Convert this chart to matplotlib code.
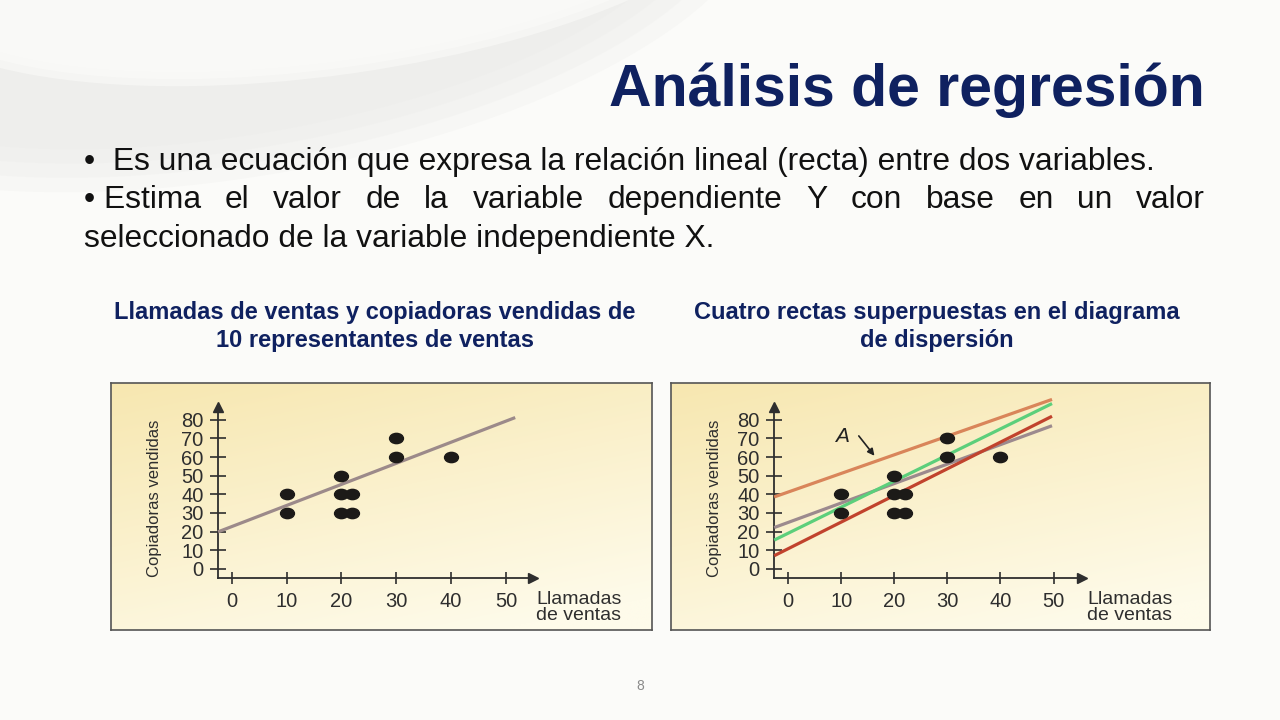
import numpy as np
import matplotlib
matplotlib.use('Agg')
import matplotlib.pyplot as plt
from matplotlib.patches import Ellipse
from matplotlib.path import Path
from matplotlib.transforms import Affine2D

plt.rcParams['font.family'] = ['Liberation Sans', 'DejaVu Sans']

# data: sales calls vs copiers sold for 10 reps
calls = [10, 10, 20, 20, 20, 22, 22, 30, 30, 40]
copiers = [40, 30, 50, 40, 30, 40, 30, 70, 60, 60]

# regression line drawn in the left figure
fit_intercept = 22.7
fit_slope = 1.131
fit_range = [-2.5, 51.7]

# four candidate lines in the right figure (drawing order: bottom to top)
line_names = ['gris', 'rojo', 'verde', 'A']
line_intercepts = [24.9, 10.8, 19.1, 41.2]
line_slopes = [1.044, 1.43, 1.40, 1.00]
line_colors = ['#9c8a8e', '#c1432d', '#5ccf7b', '#d9855a']
lines_range = [-2.6, 49.7]

x_ticks = [0, 10, 20, 30, 40, 50]
y_ticks = [0, 10, 20, 30, 40, 50, 60, 70, 80]

title = 'Análisis de regresión'
bullet1 = '•  Es una ecuación que expresa la relación lineal (recta) entre dos variables.'
bullet2 = '• Estima el valor de la variable dependiente Y con base en un valor'
bullet3 = 'seleccionado de la variable independiente X.'
left_title = ['Llamadas de ventas y copiadoras vendidas de', '10 representantes de ventas']
right_title = ['Cuatro rectas superpuestas en el diagrama', 'de dispersión']

W, H = 1280, 720
navy = '#0f2160'
ink = '#2e2e2e'
bg_col = '#fbfbf9'

fig = plt.figure(figsize=(12.8, 7.2), dpi=100)
fig.patch.set_facecolor(bg_col)

# page layer in pixel coordinates
page = fig.add_axes([0, 0, 1, 1], zorder=0)
page.set_xlim(0, W)
page.set_ylim(H, 0)
page.axis('off')

# faint swoosh in the top-left corner
for k in range(4):
    page.add_patch(Ellipse((250, -20), 1040 - 50 * k, 390 - 28 * k, angle=-10,
                           facecolor='#e9e9e7', edgecolor='none', alpha=0.22))
for k in range(3):
    page.add_patch(Ellipse((330, -75), 900 - 25 * k, 300 - 14 * k, angle=-8,
                           facecolor=bg_col, edgecolor='none', alpha=0.55))

page.text(1205, 90, title, ha='right', va='center', fontsize=42.5,
          fontweight='bold', color=navy)

body = dict(ha='left', va='center', fontsize=22.9, color='#111111')
page.text(84, 162, bullet1, **body)
page.text(84, 239, bullet3, **body)

# justified second line
words = bullet2.replace('• ', '•\u00a0').split(' ')
word_texts = [page.text(0, 200, w, **body) for w in words]
renderer = fig.canvas.get_renderer()
widths = [t.get_window_extent(renderer).width for t in word_texts]
gap = (1205 - 84 - sum(widths)) / (len(words) - 1)
x = 84
for t, w in zip(word_texts, widths):
    t.set_x(x)
    x += w + gap

for cx, lines in [(375, left_title), (937, right_title)]:
    for i, s in enumerate(lines):
        page.text(cx, 312 + 29 * i, s, ha='center', va='center', fontsize=17,
                  fontweight='bold', color=navy)

page.text(640, 686, '8', ha='center', va='center', fontsize=10, color='#8a8a8a')

# panel background gradient
top = np.array([247, 231, 176]) / 255
bot = np.array([254, 251, 234]) / 255
vv, hh = np.mgrid[0:1:200j, 0:1:200j]
t = np.clip(0.75 * vv + 0.35 * hh, 0, 1)[..., None]
grad = top * (1 - t) + bot * t


def px_axes(x0, y0, x1, y1, **kw):
    return fig.add_axes([x0 / W, 1 - y1 / H, (x1 - x0) / W, (y1 - y0) / H], **kw)


ellipse_marker = Path.unit_circle().transformed(Affine2D().scale(1.35, 1.0))


def draw_panel(box, ax_px, xlim, ylab_x, xlab_x):
    bg = px_axes(*box, zorder=1)
    bg.imshow(grad, aspect='auto', extent=[0, 1, 0, 1], origin='upper')
    bg.set_xticks([])
    bg.set_yticks([])
    for s in bg.spines.values():
        s.set_color('#555555')
        s.set_linewidth(1.2)

    ax = px_axes(*ax_px, zorder=2)
    ax.patch.set_alpha(0)
    ax.set_xlim(*xlim)
    ax.set_ylim(-4.6, 87)
    for s in ['top', 'right']:
        ax.spines[s].set_visible(False)
    for s in ['left', 'bottom']:
        ax.spines[s].set_color(ink)
        ax.spines[s].set_linewidth(1.3)
    ax.set_xticks(x_ticks)
    ax.set_yticks(y_ticks)
    ax.tick_params(axis='y', direction='inout', length=11, width=1.2, pad=5,
                   colors=ink, labelsize=14.5)
    ax.tick_params(axis='x', direction='inout', length=9, width=1.2, pad=6,
                   colors=ink, labelsize=14.5)
    ax.plot(1, 0, '>', color=ink, markersize=7, transform=ax.transAxes, clip_on=False)
    ax.plot(0, 1, '^', color=ink, markersize=7, transform=ax.transAxes, clip_on=False)

    fig.text(ylab_x / W, 1 - 498 / H, 'Copiadoras vendidas', rotation=90,
             ha='center', va='center', fontsize=12, color=ink, zorder=3)
    fig.text(xlab_x / W, 1 - 599 / H, 'Llamadas', ha='left', va='center',
             fontsize=14, color=ink, zorder=3)
    fig.text(xlab_x / W, 1 - 615 / H, 'de ventas', ha='left', va='center',
             fontsize=14, color=ink, zorder=3)
    return ax


ax1 = draw_panel((111, 383, 652, 630), (218, 406.7, 533.3, 577.5), (-2.5, 55),
                 155, 536)
xs = np.array(fit_range)
ax1.plot(xs, fit_intercept + fit_slope * xs, color='#9c8a8a', lw=2.3,
         solid_capstyle='butt', zorder=3, clip_on=False)
ax1.scatter(calls, copiers, marker=ellipse_marker, s=100, color='#1c1a18', zorder=4)

ax2 = draw_panel((671, 383, 1210, 630), (774.2, 406.7, 1082.3, 577.5), (-2.6, 55.4),
                 715, 1087)
xs = np.array(lines_range)
for b0, b1, c in zip(line_intercepts, line_slopes, line_colors):
    ax2.plot(xs, b0 + b1 * xs, color=c, lw=2.3, solid_capstyle='butt', zorder=3,
             clip_on=False)
ax2.scatter(calls, copiers, marker=ellipse_marker, s=100, color='#1c1a18', zorder=4)
ax2.annotate('', xy=(16.6, 59.5), xytext=(13.0, 72.5),
             arrowprops=dict(arrowstyle='-|>', color='#222222', lw=1.2,
                             mutation_scale=10))
ax2.text(10.2, 70.8, line_names[-1], ha='center', va='center', fontsize=15,
         style='italic', color='#222222')

fig.savefig('out.png', dpi=100, facecolor=fig.get_facecolor())
